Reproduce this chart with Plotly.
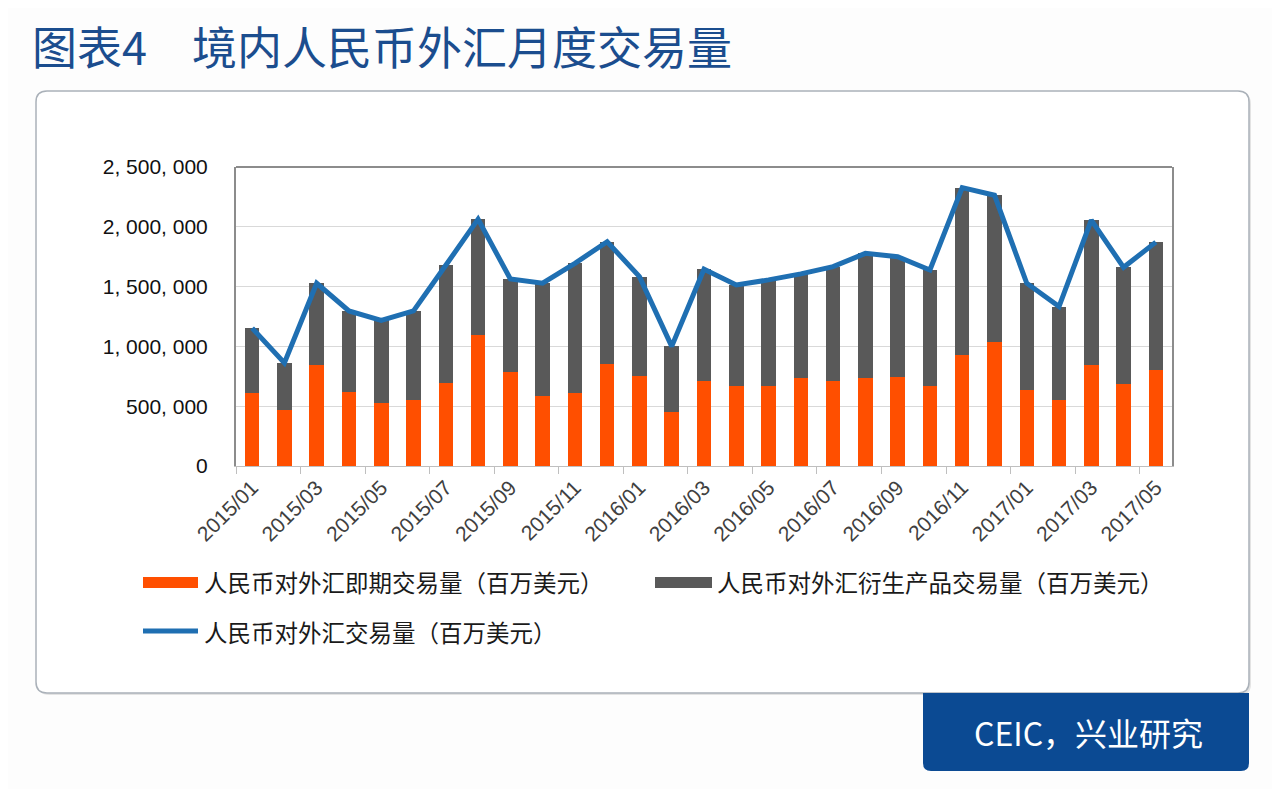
"""境内人民币外汇月度交易量 — stacked spot / derivatives bars with total line."""
import plotly.graph_objects as go

# ── Data (百万美元) ──────────────────────────────────────────────────
MONTHS = [
    "2015/01", "2015/02", "2015/03", "2015/04", "2015/05", "2015/06",
    "2015/07", "2015/08", "2015/09", "2015/10", "2015/11", "2015/12",
    "2016/01", "2016/02", "2016/03", "2016/04", "2016/05", "2016/06",
    "2016/07", "2016/08", "2016/09", "2016/10", "2016/11", "2016/12",
    "2017/01", "2017/02", "2017/03", "2017/04", "2017/05",
]
SPOT = [
    611000, 472000, 847000, 619000, 528000, 550000, 694000, 1092000,
    786000, 589000, 611000, 853000, 756000, 450000, 708000, 667000,
    667000, 736000, 714000, 736000, 745000, 667000, 931000, 1033000,
    639000, 550000, 842000, 686000, 806000,
]
DERIV = [
    542000, 389000, 681000, 678000, 689000, 747000, 984000, 972000,
    778000, 939000, 1084000, 1022000, 827000, 550000, 937000, 847000,
    889000, 870000, 953000, 1042000, 1005000, 972000, 1397000, 1231000,
    889000, 783000, 1214000, 975000, 1066000,
]
TOTAL = [
    1153000, 861000, 1528000, 1297000, 1217000, 1297000, 1678000, 2064000,
    1564000, 1528000, 1695000, 1875000, 1583000, 1000000, 1645000, 1514000,
    1556000, 1606000, 1667000, 1778000, 1750000, 1639000, 2328000, 2264000,
    1528000, 1333000, 2056000, 1661000, 1872000,
]
Y_TICKS = [0, 500000, 1000000, 1500000, 2000000, 2500000]
Y_TICK_LABELS = ["0", "500, 000", "1, 000, 000", "1, 500, 000", "2, 000, 000", "2, 500, 000"]

TITLE = "图表4\u3000境内人民币外汇月度交易量"
SOURCE = "CEIC，兴业研究"
NAME_SPOT = "人民币对外汇即期交易量（百万美元）"
NAME_DERIV = "人民币对外汇衍生产品交易量（百万美元）"
NAME_TOTAL = "人民币对外汇交易量（百万美元）"

# ── Style ────────────────────────────────────────────────────────────
ORANGE = "#ff4f00"
GRAY = "#595959"
BLUE = "#1f6fb2"
NAVY = "#0b4a93"
CJK = "Noto Sans CJK SC"
LATIN = "Liberation Sans, Arial, sans-serif"

W, H = 1280, 789
PAGE_OFFSET = 8  # the page body adds an 8px margin around the figure
# plot area in screen pixels
PLOT_L, PLOT_R, PLOT_T, PLOT_B = 236, 1172, 167, 466


def px(x):
    return (x - PLOT_L) / (PLOT_R - PLOT_L)


def py(y):
    return (PLOT_B - y) / (PLOT_B - PLOT_T)


def rrect(x0, y0, x1, y1, r, top=True, bottom=True):
    """SVG path (paper coords) for a rounded rectangle given in pixels."""
    rt = r if top else 0
    rb = r if bottom else 0
    p = [f"M {px(x0 + rt)},{py(y0)}", f"L {px(x1 - rt)},{py(y0)}"]
    if rt:
        p.append(f"Q {px(x1)},{py(y0)} {px(x1)},{py(y0 + rt)}")
    p.append(f"L {px(x1)},{py(y1 - rb)}")
    if rb:
        p.append(f"Q {px(x1)},{py(y1)} {px(x1 - rb)},{py(y1)}")
    p.append(f"L {px(x0 + rb)},{py(y1)}")
    if rb:
        p.append(f"Q {px(x0)},{py(y1)} {px(x0)},{py(y1 - rb)}")
    p.append(f"L {px(x0)},{py(y0 + rt)}")
    if rt:
        p.append(f"Q {px(x0)},{py(y0)} {px(x0 + rt)},{py(y0)}")
    p.append("Z")
    return " ".join(p)


fig = go.Figure()

fig.add_trace(go.Bar(
    x=MONTHS, y=SPOT, name=NAME_SPOT,
    marker=dict(color=ORANGE, line=dict(width=0)),
    showlegend=False,
))
fig.add_trace(go.Bar(
    x=MONTHS, y=DERIV, name=NAME_DERIV,
    marker=dict(color=GRAY, line=dict(width=0)),
    showlegend=False,
))
fig.add_trace(go.Scatter(
    x=MONTHS, y=TOTAL, name=NAME_TOTAL,
    mode="lines",
    line=dict(color=BLUE, width=5),
    showlegend=False,
))

shapes = [
    # panel shadow + panel
    dict(type="path", path=rrect(38, 93, 1251, 695, 11),
         fillcolor="rgba(0,0,0,0.10)", line=dict(width=0), layer="below"),
    dict(type="path", path=rrect(36, 91, 1249, 693, 11),
         fillcolor="white", line=dict(color="#aab1b9", width=1.5), layer="below"),
    # source box
    dict(type="path", path=rrect(923, 693, 1249, 771, 8, top=False),
         fillcolor=NAVY, line=dict(width=0), layer="below"),
    # top frame line
    dict(type="line", xref="paper", yref="paper", x0=0, x1=1, y0=1, y1=1,
         line=dict(color="#8c8c8c", width=2)),
    # legend symbols
    dict(type="rect", x0=px(143), x1=px(198), y0=py(588), y1=py(577),
         fillcolor=ORANGE, line=dict(width=0)),
    dict(type="rect", x0=px(655), x1=px(712), y0=py(588), y1=py(577),
         fillcolor=GRAY, line=dict(width=0)),
    dict(type="line", x0=px(143), x1=px(198), y0=py(631), y1=py(631),
         line=dict(color=BLUE, width=5)),
]
for s in shapes:
    s.setdefault("xref", "paper")
    s.setdefault("yref", "paper")

legend_font = dict(family=CJK, size=23.5, color="#1a1a1a")
annotations = [
    dict(text=TITLE, x=px(30), y=py(45), xanchor="left", yanchor="middle",
         font=dict(family=CJK, size=45, color="#1b4d8e")),
    dict(text=SOURCE, x=px(1088), y=py(732), xanchor="center", yanchor="middle",
         font=dict(family=CJK, size=32, color="white")),
    dict(text=NAME_SPOT, x=px(202), y=py(582), xanchor="left", yanchor="middle",
         font=legend_font),
    dict(text=NAME_DERIV, x=px(715), y=py(582), xanchor="left", yanchor="middle",
         font=legend_font),
    dict(text=NAME_TOTAL, x=px(202), y=py(632), xanchor="left", yanchor="middle",
         font=legend_font),
]
for a in annotations:
    a.update(xref="paper", yref="paper", showarrow=False)

o = PAGE_OFFSET
fig.update_layout(
    width=W, height=H,
    margin=dict(l=PLOT_L - o, r=W - PLOT_R + o, t=PLOT_T - o, b=H - PLOT_B + o, pad=0),
    paper_bgcolor="#fdfdfd",
    plot_bgcolor="rgba(0,0,0,0)",
    barmode="stack",
    bargap=0.55,
    showlegend=False,
    shapes=shapes,
    annotations=annotations,
    xaxis=dict(
        type="category",
        tickmode="linear", tick0=0, dtick=2,
        tickson="boundaries",
        ticks="outside", ticklen=7, tickcolor="#bfbfbf",
        tickangle=-45,
        tickfont=dict(family=LATIN, size=21, color="#404040"),
        showline=True, linecolor="#bfbfbf", linewidth=1,
        showgrid=False,
    ),
    yaxis=dict(
        range=[0, 2500000],
        tickmode="array", tickvals=Y_TICKS, ticktext=Y_TICK_LABELS,
        tickfont=dict(family=LATIN, size=21, color="#111111"),
        ticklabelstandoff=22,
        showgrid=True, gridcolor="#d9d9d9", gridwidth=1,
        showline=True, linecolor="#8c8c8c", linewidth=2, mirror=True,
        zeroline=False,
    ),
)

fig.write_html("out.html")
